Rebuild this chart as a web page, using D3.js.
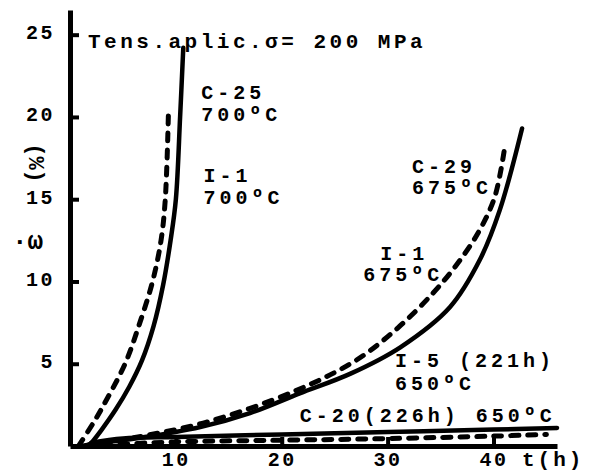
<!DOCTYPE html>
<html>
<head>
<meta charset="utf-8">
<script src="https://cdn.jsdelivr.net/npm/d3@7"></script>
<style>
  body { margin: 0; background: #fff; }
  svg text { font-family: 'Liberation Mono', 'DejaVu Sans Mono', monospace; font-weight: bold; fill: #000; }
</style>
</head>
<body>
<svg id="chart" width="596" height="472"></svg>
<script>
// data: t (h) vs creep strain w (%)
const c25T = [1.8, 3.0, 4.3, 5.6, 6.8, 7.9, 8.8, 9.5, 10.0, 10.4, 10.7];
const c25W = [0, 1, 2.2, 3.6, 5.2, 7.3, 9.8, 12.5, 15, 20, 24.2];

const i1hT = [0.8, 2.2, 3.1, 5.2, 6.6, 7.8, 8.6, 9.0, 9.3];
const i1hW = [0, 1.4, 2.4, 5, 7.5, 10, 12.5, 15, 20.3];

const c29T = [1.8, 6.6, 12.3, 17, 21.7, 26.5, 31.2, 35.9, 38.7, 40.6, 42.7];
const c29W = [0.1, 0.5, 1.15, 2.0, 3.2, 4.4, 6.0, 8.45, 11.3, 14.35, 19.3];

const i1mT = [1.2, 6, 12.9, 21.1, 27, 31, 34.3, 36.5, 38.5, 40.1, 41.0];
const i1mW = [0, 0.5, 1.45, 3.3, 5.2, 7.2, 9.3, 11.0, 12.9, 15.1, 17.9];

const i5T = [1.5, 10, 20, 30, 40, 45];
const i5W = [0, 0.25, 0.35, 0.45, 0.6, 0.7];

const c20T = [2, 5, 10, 20, 30, 40, 46];
const c20W = [0.2, 0.45, 0.55, 0.7, 0.85, 1.0, 1.1];

const xTicks = [10, 20, 30, 40];
const yTicks = [5, 10, 15, 20, 25];

const series = [
  { t: c25T, w: c25W, dashed: false },
  { t: i1hT, w: i1hW, dashed: true },
  { t: c29T, w: c29W, dashed: false },
  { t: i1mT, w: i1mW, dashed: true },
  { t: i5T, w: i5W, dashed: true },
  { t: c20T, w: c20W, dashed: false }
];

const labels = [
  { text: 'C-25', t: 12.4, w: 21.1 },
  { text: '700ºC', t: 12.4, w: 19.75 },
  { text: 'I-1', t: 12.6, w: 16.05 },
  { text: '700ºC', t: 12.6, w: 14.7 },
  { text: 'C-29', t: 32.3, w: 16.6 },
  { text: '675ºC', t: 32.3, w: 15.3 },
  { text: 'I-1', t: 29.3, w: 11.3 },
  { text: '675ºC', t: 27.7, w: 10.0 },
  { text: 'I-5 (221h)', t: 30.7, w: 4.8 },
  { text: '650ºC', t: 30.7, w: 3.4 },
  { text: 'C-20(226h) 650ºC', t: 21.7, w: 1.45 }
];

const svg = d3.select('#chart');

const x = d3.scaleLinear().domain([0, 46]).range([70, 557]);
const y = d3.scaleLinear().domain([0, 26.5]).range([446, 10]);

// axes
const xAxis = d3.axisBottom(x).tickValues(xTicks).tickSizeInner(-9).tickSizeOuter(0).tickPadding(6);
const yAxis = d3.axisLeft(y).tickValues(yTicks).tickSizeInner(-9).tickSizeOuter(0).tickPadding(15);

const gx = svg.append('g').attr('transform', `translate(0,${y(0)})`).call(xAxis);
const gy = svg.append('g').attr('transform', `translate(${x(0)},0)`).call(yAxis);

[gx, gy].forEach(g => {
  g.select('.domain').attr('stroke', '#000').attr('stroke-width', 5);
  g.selectAll('.tick line').attr('stroke', '#000').attr('stroke-width', 4);
  g.selectAll('.tick text')
    .style('font-size', '20px')
    .style('letter-spacing', '2.5px')
    .attr('fill', '#000');
});
gy.selectAll('.tick text').attr('dy', '0.2em');

svg.append('text')
  .attr('x', 522).attr('y', 466)
  .style('font-size', '21px').style('letter-spacing', '3px')
  .text('t(h)');

// y label
svg.append('text')
  .attr('transform', 'translate(29,163) rotate(90)')
  .attr('text-anchor', 'middle')
  .style('font-size', '22px')
  .text('(%)');
svg.append('text')
  .attr('x', 12).attr('y', 249)
  .style('font-size', '26px')
  .text('·ω');

// curves
const line = d3.line()
  .x(d => x(d[0]))
  .y(d => y(d[1]))
  .curve(d3.curveCatmullRom.alpha(0.5));

svg.append('g').selectAll('path')
  .data(series)
  .join('path')
  .attr('d', s => line(d3.zip(s.t, s.w)))
  .attr('fill', 'none')
  .attr('stroke', '#000')
  .attr('stroke-width', s => s.dashed ? 5 : 4.5)
  .attr('stroke-dasharray', s => s.dashed ? '8,9' : null)
  .attr('stroke-linecap', 'round');

// curve labels
svg.append('g').selectAll('text')
  .data(labels)
  .join('text')
  .attr('x', d => x(d.t))
  .attr('y', d => y(d.w))
  .style('font-size', '20px')
  .style('letter-spacing', '4px')
  .text(d => d.text);

svg.append('text')
  .attr('x', 88).attr('y', 48)
  .style('font-size', '21px')
  .style('letter-spacing', '3.5px')
  .text('Tens.aplic.σ= 200 MPa');
</script>
</body>
</html>
